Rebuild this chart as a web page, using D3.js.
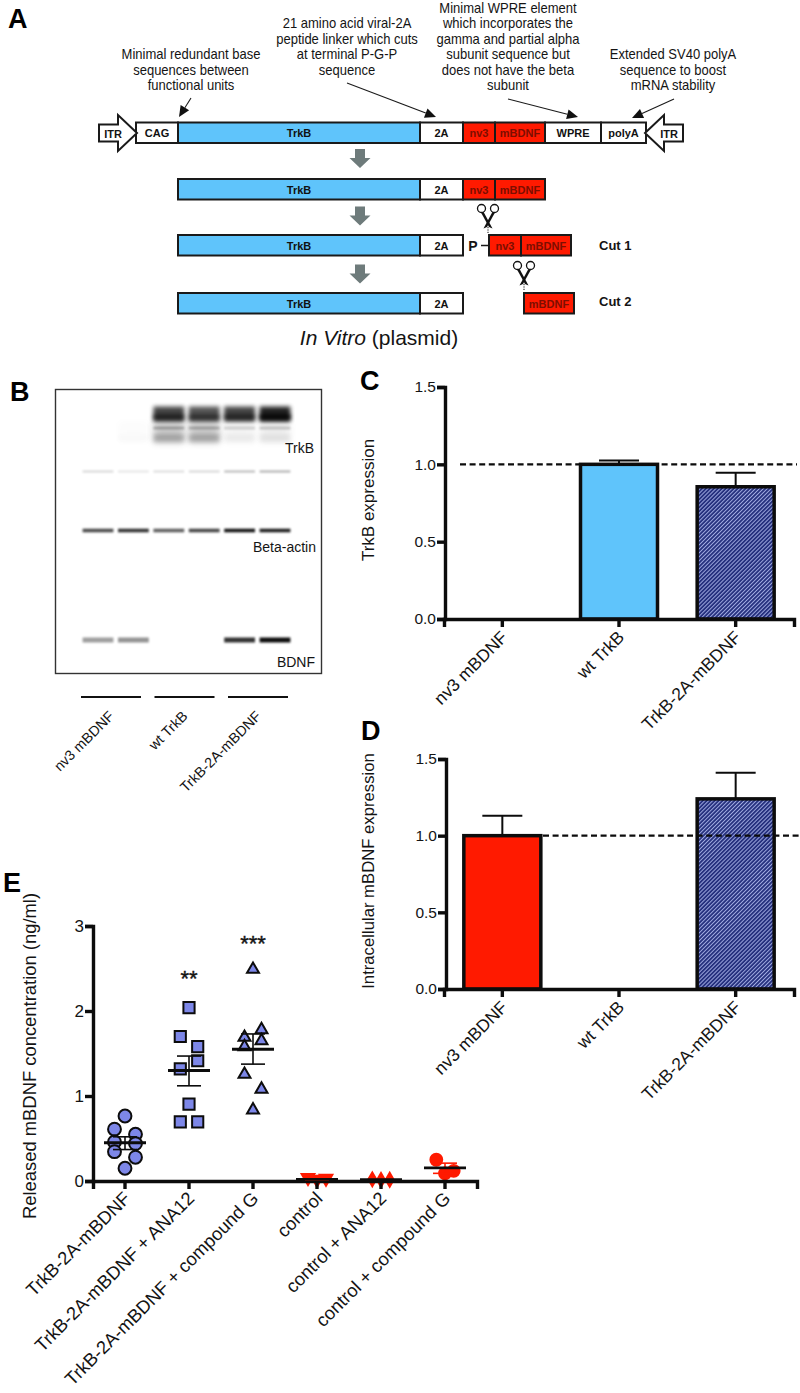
<!DOCTYPE html>
<html>
<head>
<meta charset="utf-8">
<script src="https://cdnjs.cloudflare.com/ajax/libs/d3/7.8.5/d3.min.js"></script>
<style>
  html, body { margin: 0; padding: 0; background: #fff; }
  svg { display: block; }
  text { font-family: "Liberation Sans", Arial, sans-serif; fill: #141414; }
</style>
</head>
<body>
<div id="fig"></div>
<script>
// ---- panel A values
var cassetteParts = ["CAG", "TrkB", "2A", "nv3", "mBDNF", "WPRE", "polyA"];
var cassetteLengths = [42, 242, 43, 32, 50, 56, 45];
var noteCag = ["Minimal redundant base", "sequences between", "functional units"];
var note2a = ["21 amino acid viral-2A", "peptide linker which cuts", "at terminal P-G-P", "sequence"];
var noteWpre = ["Minimal WPRE element", "which incorporates the", "gamma and partial alpha", "subunit sequence but", "does not have the beta", "subunit"];
var notePolya = ["Extended SV40 polyA", "sequence to boost", "mRNA stability"];

// ---- panel B values, band darkness per lane
var blotLanes = ["1", "2", "3", "4", "5", "6"];
var blotGroups = ["nv3 mBDNF", "wt TrkB", "TrkB-2A-mBDNF"];
var trkbMain = [0, 0, 0.72, 0.66, 0.72, 0.86];
var trkbCore = [0, 0, 0.55, 0.45, 0.5, 0.8];
var trkbLower = [0, 0, 0.26, 0.24, 0.16, 0.2];
var trkbSmear = [0, 0.01, 0.2, 0.2, 0.04, 0.06];
var faintBand = [0.16, 0.1, 0.14, 0.16, 0.28, 0.32];
var actinBand = [0.7, 0.8, 0.62, 0.72, 0.92, 0.88];
var bdnfBand = [0.38, 0.42, 0, 0, 0.8, 0.95];

// ---- panel C and D values
var barCategories = ["nv3 mBDNF", "wt TrkB", "TrkB-2A-mBDNF"];
var barTicks = [0, 0.5, 1.0, 1.5];
var trkbMeans = [null, 1.0, 0.855];
var trkbUppers = [null, 1.025, 0.945];
var mbdnfMeans = [1.0, null, 1.24];
var mbdnfUppers = [1.13, null, 1.41];

// ---- panel E values
var releaseCategories = ["TrkB-2A-mBDNF", "TrkB-2A-mBDNF + ANA12", "TrkB-2A-mBDNF + compound G", "control", "control + ANA12", "control + compound G"];
var releaseTicks = [0, 1, 2, 3];
var plainValues = [0.765, 0.61, 0.55, 0.46, 0.44, 0.345, 0.28, 0.15];
var plainSlots = [0, -1, 1, -1, 1, -1, 1, 0];
var anaValues = [2.04, 1.70, 1.58, 1.415, 1.32, 0.905, 0.695, 0.695];
var anaSlots = [0, -1, 1, 1, -1, 0, -1, 1];
var compValues = [2.49, 1.78, 1.69, 1.65, 1.58, 1.255, 1.08, 0.835];
var compSlots = [0, 1, -1, 1, -1, -1, 1, 0];
var ctrlValues = [0.04, 0.02, 0.03];
var ctrlAnaValues = [0.02, 0.012, 0.015];
var ctrlCompValues = [0.25, 0.09, 0.12];
var threeSlots = [-1, 0, 1];
var releaseMeans = [0.45, 1.30, 1.55, 0.02, 0.015, 0.155];
var releaseUppers = [0.52, 1.47, 1.73, 0.03, 0.02, 0.21];
var releaseLowers = [0.37, 1.12, 1.375, 0.01, 0.01, 0.09];
var releaseStars = ["", "**", "***", "", "", ""];

var blue = "#5fc4fb", red = "#ff1a00", ink = "#0c0c0c", periwinkle = "#7d87e8";

var svg = d3.select("#fig").append("svg")
    .attr("width", 800)
    .attr("height", 1393);

var defs = svg.append("defs");

// hatch fill used for the TrkB-2A-mBDNF bars
var hatch = defs.append("pattern")
    .attr("id", "hatch")
    .attr("width", 2.8)
    .attr("height", 2.8)
    .attr("patternUnits", "userSpaceOnUse")
    .attr("patternTransform", "rotate(-45)");
hatch.append("rect").attr("width", 2.8).attr("height", 2.8).attr("fill", "#27327f");
hatch.append("rect").attr("width", 2.8).attr("height", 0.9).attr("fill", "#a4aee4");

[["blur1", 1.1], ["blur2", 2.2], ["blur4", 3.6]].forEach(function(b) {
  defs.append("filter").attr("id", b[0])
      .attr("x", "-20%").attr("y", "-80%").attr("width", "140%").attr("height", "260%")
    .append("feGaussianBlur").attr("stdDeviation", b[1]);
});

// panel letters
[["A", 8, 28], ["B", 10, 401], ["C", 360, 390], ["D", 361, 740], ["E", 3, 892]].forEach(function(l) {
  svg.append("text")
      .attr("x", l[1]).attr("y", l[2])
      .attr("font-size", 27)
      .attr("font-weight", "bold")
      .style("fill", "#000")
      .text(l[0]);
});

// ---------- A: construct schematic
var panelA = svg.append("g");
var lengthOf = d3.scaleOrdinal().domain(cassetteParts).range(cassetteLengths);

function drawParts(startX, y, names) {
  var x = startX;
  names.forEach(function(name) {
    var w = lengthOf(name);
    var filled = name == "TrkB" ? blue : (name == "nv3" || name == "mBDNF") ? red : "#fff";
    panelA.append("rect")
        .attr("x", x).attr("y", y)
        .attr("width", w).attr("height", 20.5)
        .attr("fill", filled)
        .attr("stroke", "#1a1a1a")
        .attr("stroke-width", 2);
    panelA.append("text")
        .attr("x", x + w / 2).attr("y", y + 14.5)
        .attr("text-anchor", "middle")
        .attr("font-size", 11)
        .attr("font-weight", "bold")
        .style("fill", filled == red ? "#7c0e00" : "#111")
        .text(name);
    x += w;
  });
}

drawParts(136, 122.5, cassetteParts);
drawParts(178, 179, ["TrkB", "2A", "nv3", "mBDNF"]);
drawParts(178, 235, ["TrkB", "2A"]);
drawParts(489, 235, ["nv3", "mBDNF"]);
drawParts(178, 293, ["TrkB", "2A"]);
drawParts(524, 293, ["mBDNF"]);

// ITR arrows
function itrArrow(tipX, dir) {
  var p = d3.path();
  p.moveTo(tipX, 133);
  p.lineTo(tipX - dir * 19, 115);
  p.lineTo(tipX - dir * 19, 124.5);
  p.lineTo(tipX - dir * 38, 124.5);
  p.lineTo(tipX - dir * 38, 141.5);
  p.lineTo(tipX - dir * 19, 141.5);
  p.lineTo(tipX - dir * 19, 151);
  p.closePath();
  panelA.append("path").attr("d", p.toString())
      .attr("fill", "#fff").attr("stroke", "#1a1a1a").attr("stroke-width", 2);
  panelA.append("text")
      .attr("x", tipX - dir * 24).attr("y", 137.5)
      .attr("text-anchor", "middle")
      .attr("font-size", 11).attr("font-weight", "bold")
      .text("ITR");
}
itrArrow(137, 1);
itrArrow(645, -1);

// grey process arrows
[149, 206.5, 264.5].forEach(function(top) {
  panelA.append("path")
      .attr("d", "M355," + top + "h10v9h5.5l-10.5,10l-10.5,-10h5.5z")
      .attr("fill", "#6e7b7b");
});

// note text and the arrows under it, squeezed like the original lettering
function drawNote(lines, cx, firstBase) {
  var g = panelA.append("g").attr("transform", "translate(" + cx + ",0) scale(0.93,1)");
  g.selectAll(null)
    .data(lines)
    .enter().append("text")
      .attr("x", 0)
      .attr("y", function(d, i) { return firstBase + i * 15.5; })
      .attr("text-anchor", "middle")
      .attr("font-size", 14)
      .text(function(d) { return d; });
}
drawNote(noteCag, 191, 59.5);
drawNote(note2a, 347, 28.5);
drawNote(noteWpre, 508, 13);
drawNote(notePolya, 673, 59.5);

function drawPointer(x1, y1, x2, y2) {
  var a = Math.atan2(y2 - y1, x2 - x1), len = 11, wid = 5;
  var bx = x2 - len * Math.cos(a), by = y2 - len * Math.sin(a);
  panelA.append("line")
      .attr("x1", x1).attr("y1", y1).attr("x2", bx).attr("y2", by)
      .attr("stroke", "#1a1a1a").attr("stroke-width", 1.1);
  panelA.append("path")
      .attr("d", "M" + x2 + "," + y2 +
        "L" + (bx - wid * Math.sin(a)) + "," + (by + wid * Math.cos(a)) +
        "L" + (bx + wid * Math.sin(a)) + "," + (by - wid * Math.cos(a)) + "Z")
      .attr("fill", "#111");
}
drawPointer(191, 98, 179, 117);
drawPointer(347, 83, 436, 117);
drawPointer(508, 99, 578, 117);
drawPointer(674, 99, 632, 118);

// P label, cut labels, title
panelA.append("text").attr("x", 473).attr("y", 251)
    .attr("text-anchor", "middle").attr("font-size", 14).attr("font-weight", "bold").text("P");
panelA.append("line").attr("x1", 481).attr("x2", 489).attr("y1", 245.5).attr("y2", 245.5)
    .attr("stroke", "#1a1a1a").attr("stroke-width", 1.5);
panelA.append("text").attr("x", 599).attr("y", 250).attr("font-size", 13).attr("font-weight", "bold").text("Cut 1");
panelA.append("text").attr("x", 599).attr("y", 306).attr("font-size", 13).attr("font-weight", "bold").text("Cut 2");

var title = panelA.append("text").attr("x", 379).attr("y", 345)
    .attr("text-anchor", "middle").attr("font-size", 21);
title.append("tspan").attr("font-style", "italic").text("In Vitro");
title.append("tspan").text(" (plasmid)");

// scissors
function scissors(cx, top) {
  var g = panelA.append("g").attr("transform", "translate(" + cx + "," + top + ")");
  [-1, 1].forEach(function(s) {
    g.append("circle").attr("cx", s * 6.5).attr("cy", 4.5).attr("r", 4)
        .attr("fill", "#fff").attr("stroke", "#111").attr("stroke-width", 1.3);
    g.append("path")
        .attr("d", "M" + (s * 4.4) + ",8L" + (-s * 4.5) + ",24.5L" + (-s * 1) + ",23L" + (s * 7) + ",8.5z")
        .attr("fill", "#111");
  });
  g.append("line").attr("x1", 0).attr("x2", 0).attr("y1", 23).attr("y2", 30)
      .attr("stroke", "#111").attr("stroke-width", 1).attr("stroke-dasharray", "1.2,1.2");
}
scissors(488, 204);
scissors(524, 261);

// ---------- B: western blot
var panelB = svg.append("g");
var lane = d3.scaleBand().domain(blotLanes).range([78, 295]).padding(0.13);

panelB.append("rect")
    .attr("x", 55.5).attr("y", 389.5)
    .attr("width", 266).attr("height", 284)
    .attr("fill", "#fff").attr("stroke", "#333").attr("stroke-width", 1.4);

function bandRow(values, cy, h, blur) {
  panelB.selectAll(null)
    .data(values)
    .enter().append("rect")
      .attr("x", function(d, i) { return lane(blotLanes[i]); })
      .attr("y", cy - h / 2)
      .attr("width", lane.bandwidth())
      .attr("height", h)
      .attr("fill", "#000")
      .attr("opacity", function(d) { return d; })
      .attr("filter", "url(#" + blur + ")");
}
bandRow(trkbSmear, 438, 8, "blur2");
bandRow(trkbSmear, 432, 22, "blur4");
bandRow(trkbLower, 428, 3, "blur1");
bandRow(trkbMain, 414, 15, "blur2");
bandRow(trkbCore, 417, 6, "blur2");
bandRow(faintBand, 471.5, 2, "blur1");
bandRow(actinBand, 530.5, 3.6, "blur1");
bandRow(bdnfBand, 640, 5, "blur1");

[["TrkB", 314, 453], ["Beta-actin", 316, 552], ["BDNF", 315, 667]].forEach(function(t) {
  panelB.append("text").attr("x", t[1]).attr("y", t[2])
      .attr("text-anchor", "end").attr("font-size", 14).text(t[0]);
});

var blotLabel = d3.scalePoint().domain(blotGroups).range([111, 258]);
blotGroups.forEach(function(name) {
  var cx = blotLabel(name);
  panelB.append("line")
      .attr("x1", cx - 30).attr("x2", cx + 30)
      .attr("y1", 697).attr("y2", 697)
      .attr("stroke", "#111").attr("stroke-width", 2);
  panelB.append("text")
      .attr("transform", "translate(" + (cx + 4) + ",717) rotate(-45)")
      .attr("text-anchor", "end")
      .attr("font-size", 14.3)
      .text(name);
});

// ---------- C, D: bar charts
function barChart(opts) {
  var g = svg.append("g");
  var x = d3.scaleBand()
      .domain(barCategories)
      .range(opts.xRange)
      .paddingInner(0.34)
      .paddingOuter(0.17);
  var y = d3.scaleLinear()
      .domain([0, 1.5])
      .range(opts.yRange);

  barCategories.forEach(function(name, i) {
    if (opts.means[i] == null) return;
    var cx = x(name) + x.bandwidth() / 2;
    g.append("line")
        .attr("x1", cx).attr("x2", cx)
        .attr("y1", y(opts.means[i])).attr("y2", y(opts.uppers[i]))
        .attr("stroke", ink).attr("stroke-width", 2);
    g.append("line")
        .attr("x1", cx - 20).attr("x2", cx + 20)
        .attr("y1", y(opts.uppers[i])).attr("y2", y(opts.uppers[i]))
        .attr("stroke", ink).attr("stroke-width", 2);
    g.append("rect")
        .attr("x", x(name))
        .attr("y", y(opts.means[i]))
        .attr("width", x.bandwidth())
        .attr("height", y(0) - y(opts.means[i]))
        .attr("fill", opts.fills[i])
        .attr("stroke", ink)
        .attr("stroke-width", 3.5);
  });

  // reference line at 1
  g.append("line")
      .attr("x1", opts.dashFrom).attr("x2", opts.dashTo)
      .attr("y1", y(1)).attr("y2", y(1))
      .attr("stroke", ink)
      .attr("stroke-width", 2.2)
      .attr("stroke-dasharray", "6,3.6");

  var yAxis = g.append("g")
      .attr("transform", "translate(" + opts.axisX + ",0)")
      .call(d3.axisLeft(y).tickValues(barTicks).tickFormat(d3.format(".1f")).tickSizeOuter(0).tickSize(8).tickPadding(1));
  var xAxis = g.append("g")
      .attr("transform", "translate(0," + y(0) + ")")
      .call(d3.axisBottom(x).tickSizeOuter(0).tickSize(8));
  [yAxis, xAxis].forEach(function(a) {
    a.selectAll("path, line").attr("stroke", ink).attr("stroke-width", 3.4);
    a.selectAll("text").style("fill", "#141414").attr("font-family", null);
  });
  yAxis.selectAll("text").attr("font-size", 15.5);
  xAxis.selectAll("text")
      .attr("font-size", 17.5)
      .attr("text-anchor", "end")
      .attr("x", 0).attr("y", 0).attr("dy", "0.35em")
      .attr("transform", "translate(2,15) rotate(-45)");

  g.append("text")
      .attr("transform", "translate(374," + opts.titleY + ") rotate(-90)")
      .attr("text-anchor", "middle")
      .attr("font-size", opts.titleSize)
      .text(opts.title);
}

barChart({
  xRange: [444, 794], yRange: [619, 387], axisX: 445,
  means: trkbMeans, uppers: trkbUppers,
  fills: ["none", blue, "url(#hatch)"],
  dashFrom: 460, dashTo: 797,
  title: "TrkB expression", titleY: 500, titleSize: 17
});
barChart({
  xRange: [444, 794], yRange: [989, 759], axisX: 446,
  means: mbdnfMeans, uppers: mbdnfUppers,
  fills: [red, "none", "url(#hatch)"],
  dashFrom: 543, dashTo: 800,
  title: "Intracellular mBDNF expression", titleY: 871, titleSize: 16.7
});

// ---------- E: released mBDNF scatter
var panelE = svg.append("g");
var xE = d3.scaleBand()
    .domain(releaseCategories)
    .range([93, 477])
    .padding(0);
var yE = d3.scaleLinear()
    .domain([0, 3])
    .range([1181, 926]);

var groups = [
  {values: plainValues, slots: plainSlots, symbol: d3.symbolCircle, size: 130, step: 10.5, fill: periwinkle, line: ink, turn: 0},
  {values: anaValues, slots: anaSlots, symbol: d3.symbolSquare, size: 125, step: 8.7, fill: periwinkle, line: ink, turn: 0},
  {values: compValues, slots: compSlots, symbol: d3.symbolTriangle, size: 62, step: 8.5, fill: periwinkle, line: ink, turn: 0},
  {values: ctrlValues, slots: threeSlots, symbol: d3.symbolTriangle, size: 70, step: 9, fill: red, line: red, turn: 180},
  {values: ctrlAnaValues, slots: threeSlots, symbol: d3.symbolDiamond, size: 55, step: 8.7, fill: red, line: red, turn: 0},
  {values: ctrlCompValues, slots: threeSlots, symbol: d3.symbolCircle, size: 110, step: 8.7, fill: red, line: red, turn: 0}
];

groups.forEach(function(group, i) {
  var cx = xE(releaseCategories[i]) + xE.bandwidth() / 2;
  panelE.selectAll(null)
    .data(group.values)
    .enter().append("path")
      .attr("d", d3.symbol().type(group.symbol).size(group.size))
      .attr("transform", function(d, j) {
        return "translate(" + (cx + group.slots[j] * group.step) + "," + yE(d) + ") rotate(" + group.turn + ")";
      })
      .attr("fill", group.fill)
      .attr("stroke", group.line)
      .attr("stroke-width", 2);
});

var xAxisE = panelE.append("g")
    .attr("transform", "translate(0," + yE(0) + ")")
    .call(d3.axisBottom(xE).tickSizeOuter(0).tickSize(8));
var yAxisE = panelE.append("g")
    .attr("transform", "translate(93,0)")
    .call(d3.axisLeft(yE).tickValues(releaseTicks).tickFormat(d3.format("d")).tickSizeOuter(0).tickSize(8).tickPadding(1));
[xAxisE, yAxisE].forEach(function(a) {
  a.selectAll("path, line").attr("stroke", ink).attr("stroke-width", 3.4);
  a.selectAll("text").style("fill", "#141414").attr("font-family", null);
});
yAxisE.selectAll("text").attr("font-size", 17);
xAxisE.selectAll("text")
    .attr("font-size", 18.4)
    .attr("text-anchor", "end")
    .attr("x", 0).attr("y", 0).attr("dy", "0.35em")
    .attr("transform", "translate(2,14) rotate(-45)");

// means, sem bars and stars go above the axis
releaseCategories.forEach(function(name, i) {
  var cx = xE(name) + xE.bandwidth() / 2;
  var errColor = i < 3 ? ink : red;
  panelE.append("line")
      .attr("x1", cx).attr("x2", cx)
      .attr("y1", yE(releaseLowers[i])).attr("y2", yE(releaseUppers[i]))
      .attr("stroke", errColor).attr("stroke-width", 1.6);
  [releaseLowers[i], releaseUppers[i]].forEach(function(v) {
    panelE.append("line")
        .attr("x1", cx - 12).attr("x2", cx + 12)
        .attr("y1", yE(v)).attr("y2", yE(v))
        .attr("stroke", errColor).attr("stroke-width", 1.6);
  });
  panelE.append("line")
      .attr("x1", cx - 21).attr("x2", cx + 21)
      .attr("y1", yE(releaseMeans[i])).attr("y2", yE(releaseMeans[i]))
      .attr("stroke", ink).attr("stroke-width", 2.8);
  if (releaseStars[i]) {
    panelE.append("text")
        .attr("x", cx)
        .attr("y", i == 1 ? 986 : 951)
        .attr("text-anchor", "middle")
        .attr("font-size", 22)
        .attr("stroke", "#141414")
        .attr("stroke-width", 0.4)
        .text(releaseStars[i]);
  }
});

panelE.append("text")
    .attr("transform", "translate(36,1056) rotate(-90)")
    .attr("text-anchor", "middle")
    .attr("font-size", 18.4)
    .text("Released mBDNF concentration (ng/ml)");
</script>
</body>
</html>
